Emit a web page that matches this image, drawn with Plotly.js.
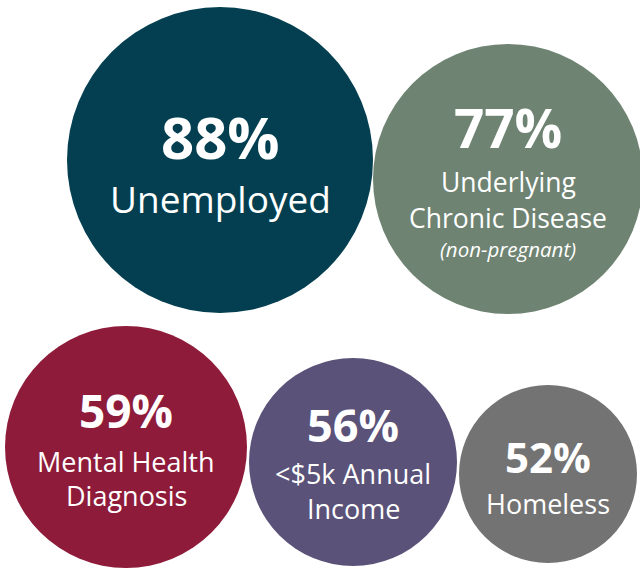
<!DOCTYPE html>
<html>
<head>
<meta charset="utf-8">
<script src="https://cdn.plot.ly/plotly-3.0.1.min.js"></script>
<style>html,body{margin:0;padding:0;background:#fff;}#chart{width:640px;height:570px;}</style>
</head>
<body>
<div id="chart"></div>
<script>
// ---- data ----
var pctValues = [88, 77, 59, 56, 52];
var categoryLines = [
  ['Unemployed'],
  ['Underlying', 'Chronic Disease'],
  ['Mental Health', 'Diagnosis'],
  ['<$5k Annual', 'Income'],
  ['Homeless']
];
var notes = ['', '(non-pregnant)', '', '', ''];

// ---- layout (pixel positions / sizes / styles) ----
var centerX = [220, 508, 126, 353, 548];
var centerY = [160, 179, 447, 462, 474];
var radius = [153, 135, 121, 104, 89];
var colors = ['#033f50', '#6e8372', '#8e1b3a', '#5a5278', '#737373'];
var valueBaseline = [157, 147, 427, 441, 472];
var valueFont = [58, 53, 46, 45, 42];
var labelBaseline = [212, 192, 471, 483, 513];
var labelGap = [0, 36, 34, 35, 0];
var labelFont = [37, 26.5, 27, 27, 27];
var noteFont = 20.5;
var noteGap = 28;

var FAM = '"Open Sans", "Noto Sans", sans-serif';
function centerFromBaseline(b, f) { return b - 0.36 * f; }

var annotations = [];
for (var i = 0; i < pctValues.length; i++) {
  annotations.push({
    x: centerX[i], y: centerFromBaseline(valueBaseline[i], valueFont[i]),
    xref: 'x', yref: 'y', text: pctValues[i] + '%', showarrow: false,
    xanchor: 'center', yanchor: 'middle',
    font: {family: FAM, size: valueFont[i], color: '#ffffff', weight: 700}
  });
  var lines = categoryLines[i];
  for (var j = 0; j < lines.length; j++) {
    var b = labelBaseline[i] + j * labelGap[i];
    annotations.push({
      x: centerX[i], y: centerFromBaseline(b, labelFont[i]),
      xref: 'x', yref: 'y', text: lines[j].replace('<', '&lt;'), showarrow: false,
      xanchor: 'center', yanchor: 'middle',
      font: {family: FAM, size: labelFont[i], color: '#ffffff', weight: 400}
    });
  }
  if (notes[i]) {
    var nb = labelBaseline[i] + (lines.length - 1) * labelGap[i] + noteGap;
    annotations.push({
      x: centerX[i], y: centerFromBaseline(nb, noteFont),
      xref: 'x', yref: 'y', text: notes[i], showarrow: false,
      xanchor: 'center', yanchor: 'middle',
      font: {family: FAM, size: noteFont, color: '#ffffff', style: 'italic'}
    });
  }
}

var trace = {
  type: 'scatter', mode: 'markers',
  x: centerX, y: centerY,
  marker: {
    size: radius.map(function (r) { return 2 * r; }),
    sizemode: 'diameter',
    color: colors, opacity: 1,
    line: {width: 0}
  },
  hoverinfo: 'skip', cliponaxis: false
};

var layout = {
  width: 640, height: 570,
  margin: {l: 0, r: 0, t: 0, b: 0, pad: 0},
  paper_bgcolor: '#ffffff', plot_bgcolor: '#ffffff',
  showlegend: false,
  xaxis: {range: [0, 640], visible: false, fixedrange: true},
  yaxis: {range: [570, 0], visible: false, fixedrange: true},
  annotations: annotations
};

Plotly.newPlot('chart', [trace], layout, {displayModeBar: false, staticPlot: true});
</script>
</body>
</html>
